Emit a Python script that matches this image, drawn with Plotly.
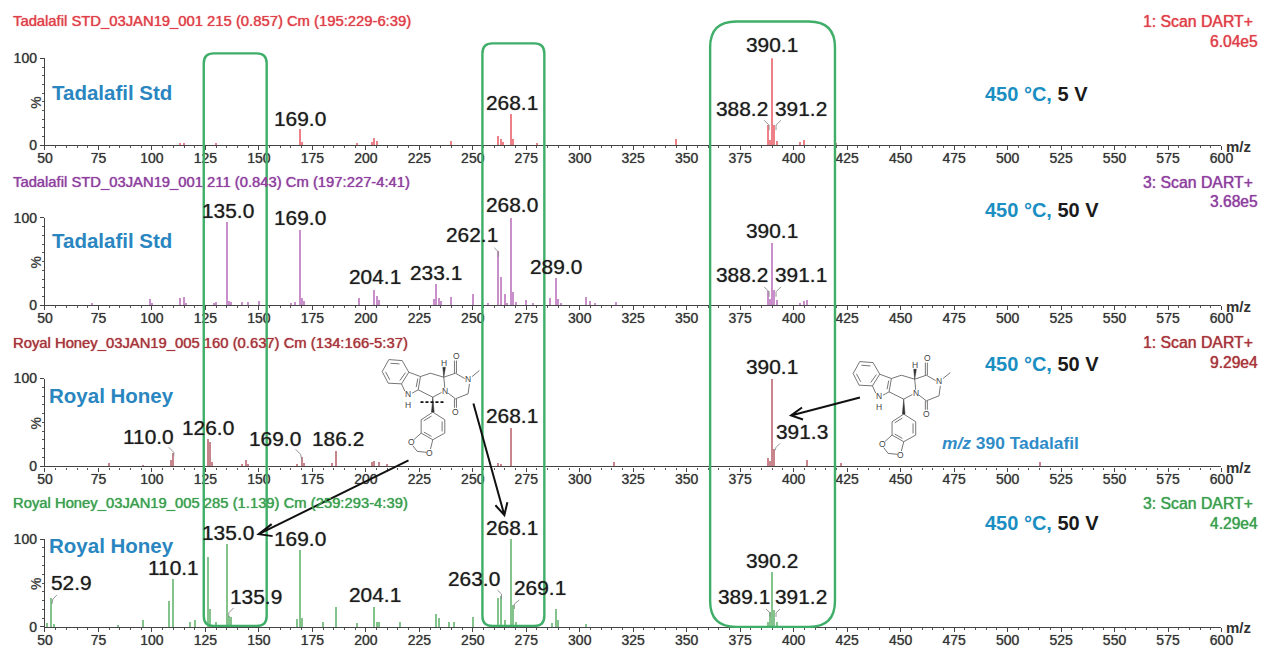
import plotly.graph_objects as go

# Page size and the measured relation between page pixels and the returned picture
W, H = 1280, 680
SX, SY = 0.9856, 0.979
DX, DY = 7.0, 6.5

# ---------- data ----------
red_mz = [113, 115, 130, 169, 170, 196, 203, 204, 205, 240, 262, 263, 264, 268, 269, 280, 345, 388, 389, 390, 391, 392, 403, 405, 420]
red_int = [2, 2, 1, 18, 3, 2, 3, 8, 4, 4, 10, 7, 3, 35, 7, 2, 7, 23, 6, 100, 23, 4, 3, 6, 2]

purple_mz = [72, 99, 100, 113, 115, 116, 129, 130, 135, 136, 137, 142, 145, 150, 165, 167, 169, 170, 171, 197, 204, 205, 206,
             232, 233, 234, 235, 240, 250, 257, 262, 263, 265, 266, 268, 269, 270, 275, 278, 286, 289, 290, 291, 303, 305, 307, 317,
             388, 389, 390, 391, 392, 403, 405, 406]
purple_int = [3, 7, 3, 8, 9, 3, 3, 4, 95, 5, 4, 4, 4, 5, 3, 4, 86, 8, 5, 8, 18, 11, 6,
              7, 24, 8, 5, 9, 13, 3, 62, 32, 13, 3, 100, 15, 4, 6, 3, 8, 31, 7, 3, 9, 5, 3, 4,
              16, 7, 71, 18, 6, 3, 5, 6]

maroon_mz = [80, 96, 109, 110, 126, 127, 128, 142, 144, 145, 168, 170, 171, 184, 186, 203, 204, 206, 210,
             262, 263, 268, 316, 388, 389, 390, 391, 406, 422, 515]
maroon_int = [4, 2, 8, 16, 32, 28, 5, 3, 8, 3, 3, 11, 4, 4, 18, 6, 7, 5, 3,
              4, 3, 44, 6, 10, 7, 100, 20, 8, 4, 5]

green_mz = [51, 52.9, 54, 84, 96, 108, 110, 118, 120, 126, 127, 130, 135, 136, 137, 168, 169, 170, 180, 186, 196, 204, 205, 206, 216,
            233, 234, 239, 241, 250, 262, 263, 265, 268, 269, 270, 287, 289, 290, 303, 388, 389, 390, 391, 392]
green_int = [4, 33, 3, 2, 8, 29, 54, 5, 8, 80, 20, 5, 94, 12, 11, 9, 88, 10, 6, 23, 4, 23, 6, 5, 5,
             15, 10, 6, 6, 11, 33, 35, 8, 100, 25, 5, 4, 20, 8, 3, 5, 17, 62, 19, 5]

panel_mz = [red_mz, purple_mz, maroon_mz, green_mz]
panel_int = [red_int, purple_int, maroon_int, green_int]
bar_colors = ["#ee8088", "#c98fcb", "#c9858c", "#84c48c"]
header_colors = ["#e0404a", "#8f3f9f", "#a8343c", "#3b9f4f"]

headers = ["Tadalafil STD_03JAN19_001 215 (0.857) Cm (195:229-6:39)",
           "Tadalafil STD_03JAN19_001 211 (0.843) Cm (197:227-4:41)",
           "Royal Honey_03JAN19_005 160 (0.637) Cm (134:166-5:37)",
           "Royal Honey_03JAN19_005 285 (1.139) Cm (259:293-4:39)"]
scans = ["1: Scan DART+", "3: Scan DART+", "1: Scan DART+", "3: Scan DART+"]
maxima = ["6.04e5", "3.68e5", "9.29e4", "4.29e4"]
samples = ["Tadalafil Std", "Tadalafil Std", "Royal Honey", "Royal Honey"]
voltages = ["5 V", "50 V", "50 V", "50 V"]
temperature = "450 °C,"

x_ticks = list(range(50, 601, 25))

# ---------- layout in reference pixels ----------
X0, X1 = 44, 1222
Y100 = [57, 217, 378, 539]
Y0 = [144, 304.5, 466, 627]
HEAD_Y = [20, 181, 342, 503]
MAX_Y = [40, 201, 362, 523]
SAMPLE_Y = [91, 240, 395, 545]
TEMP_Y = [93, 209, 363, 523]

def px(x):
    return ((x - DX) / SX) / W

def py(y):
    return 1 - ((y - DY) / SY) / H

def path(points, close=False):
    s = "M" + " L".join(f"{px(a):.5f},{py(b):.5f}" for a, b in points)
    return s + (" Z" if close else "")

peak_labels = [
    ("169.0", 299.5, 117), ("268.1", 512, 101), ("390.1", 772, 43), ("388.2", 742, 107), ("391.2", 801, 107),
    ("135.0", 227, 210), ("169.0", 299.5, 217), ("204.1", 374, 276), ("233.1", 436, 272), ("262.1", 472, 234),
    ("268.0", 512, 204), ("289.0", 556, 266), ("390.1", 772, 230), ("388.2", 742, 274), ("391.1", 801, 274),
    ("110.0", 148, 436), ("126.0", 207.5, 427), ("169.0", 274, 438), ("186.2", 337, 438), ("268.1", 512, 415),
    ("390.1", 772, 366), ("391.3", 801.5, 431),
    ("52.9", 71, 582), ("110.1", 173, 567), ("135.0", 227, 532), ("135.9", 255, 597), ("169.0", 299.5, 538),
    ("204.1", 374, 595), ("263.0", 474, 578), ("268.1", 512, 527), ("269.1", 540, 587), ("390.2", 772, 560),
    ("389.1", 744, 597), ("391.2", 801, 597),
]

leaders = [
    [(764, 119), (769, 124), (769, 129)], [(781, 119), (776, 124), (776, 129)],
    [(764, 286), (769, 291), (769, 296)], [(781, 286), (776, 291), (776, 296)],
    [(494, 247), (498, 251), (498, 256)],
    [(168, 447), (173, 452), (173, 456)], [(295, 449), (300, 454), (301, 459)],
    [(780, 443), (776, 447), (775, 450)],
    [(56, 595), (52, 599), (51, 604)], [(233, 608), (228, 613), (228, 617)],
    [(497, 590), (501, 594), (501, 599)], [(519, 600), (514, 604), (514, 609)],
    [(766, 609), (770, 613), (770, 617)], [(780, 609), (776, 613), (776, 617)],
]

fig = go.Figure()
layout = {}
annotations = []
shapes = []

FONT = "Liberation Sans, Arial, sans-serif"
SOFT = "0 0 1px rgba(40,40,40,0.7)"

def note(text, x, y, size, color, xanchor="center", shadow="none", **kw):
    annotations.append(dict(text=text, xref="paper", yref="paper", x=px(x), y=py(y),
                            xanchor=xanchor, yanchor="middle", showarrow=False,
                            borderpad=0, borderwidth=0,
                            font=dict(family=FONT, size=size, color=color, shadow=shadow), **kw))

for i in range(4):
    suffix = "" if i == 0 else str(i + 1)
    fig.add_trace(go.Bar(
        x=panel_mz[i], y=panel_int[i], width=0.5,
        marker=dict(color=bar_colors[i], line=dict(width=0)),
        xaxis="x" + suffix, yaxis="y" + suffix, showlegend=False, hoverinfo="skip",
    ))
    layout["xaxis" + suffix] = dict(
        domain=[px(X0), px(X1)], range=[50, 600], anchor="y" + suffix,
        tickmode="array", tickvals=x_ticks, ticktext=[str(t) for t in x_ticks],
        ticks="outside", ticklen=4, tickwidth=1.2, tickcolor="#444",
        minor=dict(dtick=5, ticks="outside", ticklen=2, tickcolor="#555", tickwidth=1),
        showline=True, linecolor="#444", linewidth=1.4, showgrid=False, zeroline=False,
        tickfont=dict(family=FONT, size=14, color="#333", shadow=SOFT), ticklabelstandoff=-4,
    )
    layout["yaxis" + suffix] = dict(
        domain=[py(Y0[i]), py(Y100[i])], range=[0, 100], anchor="x" + suffix,
        tickmode="array", tickvals=[0, 100], ticktext=["0", "100"],
        ticks="outside", ticklen=4, tickwidth=1.2, tickcolor="#444",
        minor=dict(dtick=10, ticks="outside", ticklen=2, tickcolor="#555", tickwidth=1),
        showline=True, linecolor="#444", linewidth=1.4, showgrid=False, zeroline=False,
        tickfont=dict(family=FONT, size=14, color="#333", shadow=SOFT),
    )

    glow = "0 0 1px " + header_colors[i]
    note(headers[i], 12, HEAD_Y[i], 14.8, header_colors[i], "left", shadow=glow)
    note(scans[i], 1254, HEAD_Y[i], 15.8, header_colors[i], "right", shadow=glow)
    note(maxima[i], 1259, MAX_Y[i], 15.6, header_colors[i], "right", shadow=glow)
    note("<b>" + samples[i] + "</b>", 111, SAMPLE_Y[i], 20.5, "#2a86c0")
    note(f"<b><span style='color:#1b8ec2'>{temperature}</span> {voltages[i]}</b>", 985, TEMP_Y[i], 20, "#1a1a1a", "left")
    note("<b>m/z</b>", 1227, Y0[i] + 1, 15, "#333", "left")
    note("<b>%</b>", 35, (Y0[i] + Y100[i]) / 2, 14, "#444", textangle=-90)

note("<b><i>m/z</i> 390 Tadalafil</b>", 942, 443, 17.4, "#2f8cc8", "left")

for text, x, y in peak_labels:
    note(text, x, y, 20.9, "#1c1c1c", shadow=SOFT)

# ---------- green selection boxes ----------
def rounded(x0, x1, y0, y1, r):
    return (f"M{px(x0):.5f},{py(y0 + r):.5f} Q{px(x0):.5f},{py(y0):.5f} {px(x0 + r):.5f},{py(y0):.5f} "
            f"L{px(x1 - r):.5f},{py(y0):.5f} Q{px(x1):.5f},{py(y0):.5f} {px(x1):.5f},{py(y0 + r):.5f} "
            f"L{px(x1):.5f},{py(y1 - r):.5f} Q{px(x1):.5f},{py(y1):.5f} {px(x1 - r):.5f},{py(y1):.5f} "
            f"L{px(x0 + r):.5f},{py(y1):.5f} Q{px(x0):.5f},{py(y1):.5f} {px(x0):.5f},{py(y1 - r):.5f} Z")

for box in [(203, 266, 52, 626, 10), (482, 544, 42, 626, 10), (710, 835, 20, 627, 26)]:
    shapes.append(dict(type="path", xref="paper", yref="paper", path=rounded(*box),
                       line=dict(color="#3fae68", width=2.4), fillcolor="rgba(0,0,0,0)"))

# ---------- leader lines ----------
for pts in leaders:
    shapes.append(dict(type="path", xref="paper", yref="paper", path=path(pts),
                       line=dict(color="#888", width=0.9)))

# ---------- arrows ----------
arrows = [
    [(408, 460), (258, 534), (271, 524), (258, 534), (272, 536)],
    [(473, 403), (504, 515), (495, 505), (504, 515), (507, 502)],
    [(860, 397), (791, 415), (802, 407), (791, 415), (803, 419)],
]
for a in arrows:
    shapes.append(dict(type="path", xref="paper", yref="paper",
                       path=path([a[0], a[1]]) + " " + path([a[2], a[3], a[4]]),
                       line=dict(color="#111", width=2)))

# ---------- tadalafil structure, drawn twice ----------
bond_lines = [
    [(40, 27), (80, 30), (100, 65), (78, 100), (38, 98), (20, 63), (40, 27)],
    [(45, 38), (72, 40)], [(90, 66), (73, 90)], [(43, 88), (30, 64)],
    [(100, 65), (135, 78), (128, 118), (110, 128)], [(78, 100), (88, 122)],
    [(127, 84), (122, 110)],
    [(135, 78), (165, 68), (205, 80), (208, 112)], [(128, 118), (172, 140), (198, 126)],
    [(205, 80), (240, 68), (268, 84)], [(282, 100), (278, 130), (240, 145), (218, 128)],
    [(237, 68), (237, 30)], [(243, 68), (243, 30)],
    [(237, 145), (237, 172)], [(243, 145), (243, 172)],
    [(290, 78), (312, 60)],
    [(172, 185), (208, 208), (208, 248), (172, 268), (137, 248), (137, 208), (172, 185)],
    [(200, 213), (200, 243)], [(168, 258), (145, 245)], [(145, 211), (168, 197)],
    [(172, 268), (165, 296)], [(137, 248), (116, 267)],
    [(112, 286), (125, 303), (153, 306)],
]
wedges = [
    [(172, 140), (168, 185), (176, 185)],
    [(205, 80), (202, 50), (210, 50)],
]
atoms = [("N<br>H", 97, 147), ("N", 208, 122), ("N", 279, 86), ("H", 206, 38),
         ("O", 243, 17), ("O", 240, 184), ("O", 108, 276), ("O", 163, 307)]

for ox, oy in [(375, 350), (846.5, 352)]:
    for seg in bond_lines:
        shapes.append(dict(type="path", xref="paper", yref="paper",
                           path=path([(ox + a / 3, oy + b / 3) for a, b in seg]),
                           line=dict(color="#666", width=0.9)))
    for w in wedges:
        shapes.append(dict(type="path", xref="paper", yref="paper",
                           path=path([(ox + a / 3, oy + b / 3) for a, b in w], close=True),
                           line=dict(color="#333", width=0.5), fillcolor="#333"))
    for t, a, b in atoms:
        note(t, ox + a / 3, oy + b / 3, 8.5, "#444")

shapes.append(dict(type="line", xref="paper", yref="paper",
                   x0=px(375 + 135 / 3), x1=px(375 + 205 / 3), y0=py(350 + 155 / 3), y1=py(350 + 155 / 3),
                   line=dict(color="#111", width=1.8, dash="3px,2px")))

fig.update_layout(
    width=W, height=H, autosize=False,
    margin=dict(l=0, r=0, t=0, b=0, pad=0),
    paper_bgcolor="white", plot_bgcolor="white",
    annotations=annotations, shapes=shapes, bargap=0, showlegend=False,
    **layout,
)

fig.write_html("out.html", config={"displayModeBar": False},
               post_script="document.body.style.margin='0';")
